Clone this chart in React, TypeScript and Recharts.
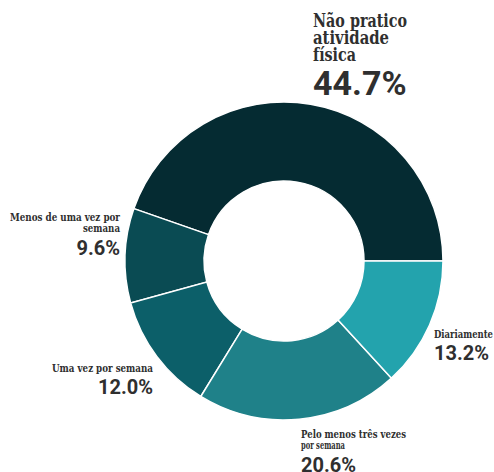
import { Cell, Pie, PieChart } from "recharts";

const CATEGORIES = [
  ["Não pratico", "atividade", "física"],
  ["Menos de uma vez por", "semana"],
  ["Uma vez por semana"],
  ["Pelo menos três vezes", "por semana"],
  ["Diariamente"],
];
const SHARES = [44.7, 9.6, 12.0, 20.6, 13.2];
const PERCENT_LABELS = ["44.7%", "9.6%", "12.0%", "20.6%", "13.2%"];

const COLORS = ["#052b32", "#0a4b53", "#0c5f69", "#1f8189", "#23a3ad"];
const TEXT = "#2f2f2f";

// where each label block sits: anchor x, name baselines, name widths, percent baseline, sizes
const LABEL_LAYOUT = [
  { x: 313, anchor: "start", names: [27, 44, 61], widths: [94, 76, 43], nameSize: 18, pct: 95, pctSize: 34 },
  { x: 120, anchor: "end", names: [221, 232], widths: [110, 37], nameSize: 10.5, pct: 255, pctSize: 20 },
  { x: 153, anchor: "end", names: [372], widths: [101], nameSize: 10.5, pct: 394, pctSize: 20 },
  { x: 301, anchor: "start", names: [438, 449], widths: [105, 44], nameSize: 10.5, pct: 472, pctSize: 20 },
  { x: 434, anchor: "start", names: [338], widths: [59], nameSize: 10.5, pct: 360, pctSize: 20 },
];

const data = CATEGORIES.map((lines, i) => ({
  name: lines.join(" "),
  value: SHARES[i],
}));

const renderLabel = ({ index }: any) => {
  const l = LABEL_LAYOUT[index];
  return (
    <g key={`lbl-${index}`}>
      {CATEGORIES[index].map((line, j) => (
        <text
          key={j}
          x={l.x}
          y={l.names[j]}
          textAnchor={l.anchor as any}
          fill={TEXT}
          fontFamily="'DejaVu Serif', serif"
          fontWeight={700}
          fontSize={l.nameSize}
          textLength={l.widths[j]}
          lengthAdjust="spacingAndGlyphs"
        >
          {line}
        </text>
      ))}
      <text
        x={l.x}
        y={l.pct}
        textAnchor={l.anchor as any}
        fill={TEXT}
        fontFamily="Roboto, sans-serif"
        fontWeight={700}
        fontSize={l.pctSize}
      >
        {PERCENT_LABELS[index]}
      </text>
    </g>
  );
};

export default function App() {
  return (
    <div style={{ position: "absolute", left: 0, top: 0, background: "#fff" }}>
      <PieChart width={494} height={472} margin={{ top: 0, right: 0, bottom: 0, left: 0 }}>
        <Pie
          data={data}
          dataKey="value"
          nameKey="name"
          cx={284}
          cy={261}
          innerRadius={80}
          outerRadius={159}
          startAngle={0}
          endAngle={360}
          stroke="#ffffff"
          strokeWidth={1.5}
          label={renderLabel}
          labelLine={false}
          isAnimationActive={false}
        >
          {data.map((_, i) => (
            <Cell key={`cell-${i}`} fill={COLORS[i]} />
          ))}
        </Pie>
      </PieChart>
    </div>
  );
}
